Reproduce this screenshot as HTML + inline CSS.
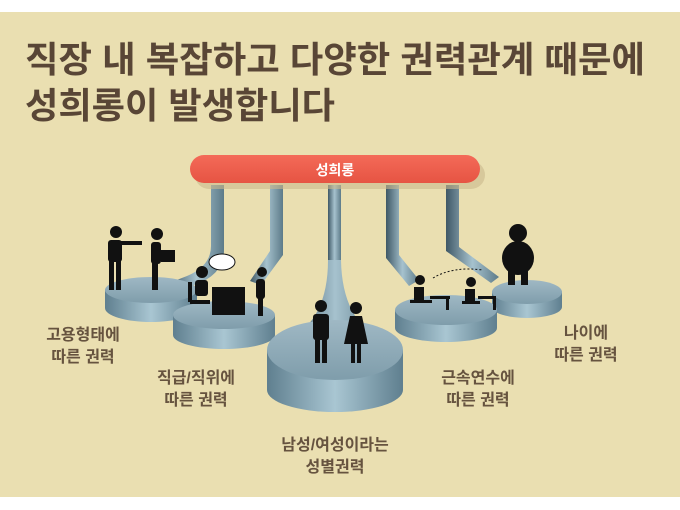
<!DOCTYPE html>
<html><head><meta charset="utf-8">
<style>
html,body{margin:0;padding:0;background:#fff;}
svg{display:block}
.t{font-family:"Liberation Sans","Noto Sans CJK KR",sans-serif;font-weight:bold;}
</style></head><body>
<svg width="680" height="510" viewBox="0 0 680 510" xmlns="http://www.w3.org/2000/svg">
<defs>
<linearGradient id="side" x1="0" x2="1" y1="0" y2="0">
<stop offset="0" stop-color="#5f7f8f"/><stop offset="0.5" stop-color="#a9c6d2"/><stop offset="1" stop-color="#5f7f8f"/>
</linearGradient>
<linearGradient id="top" x1="0" x2="0" y1="0" y2="1">
<stop offset="0" stop-color="#9fb8c4"/><stop offset="1" stop-color="#7f9dab"/>
</linearGradient>
<linearGradient id="pil" x1="0" x2="1">
<stop offset="0" stop-color="#3f5866"/><stop offset="0.5" stop-color="#a6c2ce"/><stop offset="1" stop-color="#5d7b89"/>
</linearGradient>
<linearGradient id="bar" x1="0" x2="0" y1="0" y2="1">
<stop offset="0" stop-color="#f46a58"/><stop offset="1" stop-color="#e65443"/>
</linearGradient>
</defs>
<rect x="0" y="12" width="680" height="485" fill="#eadfb1"/>
<text class="t" x="25" y="72" font-size="36" fill="#594636" textLength="620" lengthAdjust="spacingAndGlyphs">직장 내 복잡하고 다양한 권력관계 때문에</text>
<text class="t" x="25" y="118" font-size="36" fill="#594636" textLength="310" lengthAdjust="spacingAndGlyphs">성희롱이 발생합니다</text>

<!-- pillars -->
<g fill="url(#pil)">
<path d="M211 185h13v65q0 25 -30 35l-20 6l-5 -8l18 -7q24 -10 24 -30z"/>
<path d="M270 185h13v70l-22 30l-11 -4l20 -30z"/>
<rect x="328" y="185" width="13" height="90"/>
<path d="M386 185h13v70l20 25l-10 6l-23 -28z"/>
<path d="M446 185h13v62l40 30l-8 6l-45 -32z"/>
</g>
<path d="M328 260 q0 60 -40 80 h94 q-40 -20 -41 -80z" fill="url(#pil)"/>

<!-- bar -->
<rect x="193" y="158" width="290" height="28" rx="14" fill="#c9b98c" opacity="0.6" transform="translate(2,3)"/>
<rect x="190" y="155" width="290" height="28" rx="14" fill="url(#bar)"/>
<text class="t" x="335" y="175" font-size="14" fill="#fff" text-anchor="middle">성희롱</text>

<!-- platforms -->
<g>
<path d="M105 290v18a46 14 0 0 0 92 0v-18z" fill="url(#side)"/>
<ellipse cx="151" cy="290" rx="46" ry="13" fill="url(#top)"/>
<path d="M492 292v15a35 11 0 0 0 70 0v-15z" fill="url(#side)"/>
<ellipse cx="527" cy="292" rx="35" ry="12" fill="url(#top)"/>
<path d="M173 315v20a51 14 0 0 0 102 0v-20z" fill="url(#side)"/>
<ellipse cx="224" cy="315" rx="51" ry="14" fill="url(#top)"/>
<path d="M395 310v18a51 14 0 0 0 102 0v-18z" fill="url(#side)"/>
<ellipse cx="446" cy="310" rx="51" ry="15" fill="url(#top)"/>
<path d="M267 350v40a68 22 0 0 0 136 0v-40z" fill="url(#side)"/>
<ellipse cx="335" cy="350" rx="68" ry="30" fill="url(#top)"/>
</g>

<!-- figures -->
<g fill="#111">
<circle cx="116" cy="232" r="6"/><rect x="108" y="240" width="14" height="22" rx="3"/><rect x="120" y="241" width="22" height="4"/><rect x="109" y="260" width="5" height="30"/><rect x="116" y="260" width="5" height="30"/>
<circle cx="157" cy="234" r="6"/><rect x="151" y="242" width="10" height="22" rx="3"/><rect x="161" y="250" width="14" height="12"/><rect x="152" y="262" width="6" height="28"/>
<circle cx="202" cy="272" r="6"/><rect x="195" y="280" width="13" height="16" rx="3"/><rect x="188" y="282" width="4" height="20"/><rect x="190" y="300" width="20" height="4"/><rect x="212" y="287" width="33" height="28"/>
<ellipse cx="222" cy="262" rx="13" ry="8" fill="#fff" stroke="#111"/>
<circle cx="262" cy="272" r="5"/><rect x="256" y="279" width="9" height="20" rx="3"/><rect x="258" y="298" width="5" height="18"/>
<circle cx="321" cy="306" r="6"/><rect x="313" y="314" width="16" height="26" rx="3"/><rect x="315" y="338" width="5" height="25"/><rect x="322" y="338" width="5" height="25"/>
<circle cx="356" cy="308" r="6"/><path d="M350 316h12l6 28h-24z"/><rect x="351" y="342" width="4" height="21"/><rect x="357" y="342" width="4" height="21"/>
<circle cx="420" cy="280" r="5"/><rect x="414" y="287" width="10" height="14"/><rect x="410" y="300" width="22" height="3"/><rect x="430" y="296" width="20" height="3"/><rect x="446" y="296" width="3" height="14"/>
<circle cx="471" cy="282" r="5"/><rect x="465" y="289" width="10" height="13"/><rect x="462" y="301" width="18" height="3"/><rect x="478" y="296" width="18" height="3"/><rect x="493" y="296" width="3" height="14"/>
<circle cx="518" cy="233" r="9"/><ellipse cx="518" cy="258" rx="16" ry="17"/><rect x="508" y="270" width="7" height="15"/><rect x="521" y="270" width="7" height="15"/>
</g>
<path d="M433 278q20 -12 50 -8" fill="none" stroke="#111" stroke-dasharray="2 2"/>

<!-- labels -->
<g class="t" font-size="16" fill="#66533f" text-anchor="middle">
<text x="83" y="340">고용형태에</text><text x="83" y="362">따른 권력</text>
<text x="196" y="383">직급/직위에</text><text x="196" y="405">따른 권력</text>
<text x="335" y="450">남성/여성이라는</text><text x="335" y="472">성별권력</text>
<text x="478" y="383">근속연수에</text><text x="478" y="405">따른 권력</text>
<text x="586" y="338">나이에</text><text x="586" y="360">따른 권력</text>
</g>
</svg>
</body></html>
